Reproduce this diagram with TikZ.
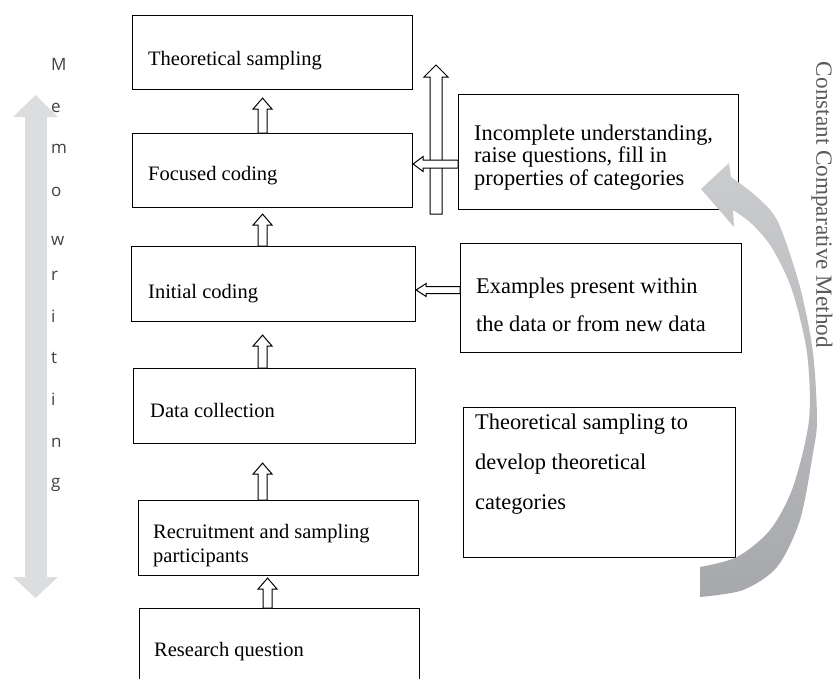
\documentclass[tikz,border=0pt]{standalone}
\usepackage{fontspec}
\setmainfont{Liberation Serif}
\newfontfamily\memofont{Open Sans}
\usetikzlibrary{calc}
\definecolor{memogray}{HTML}{DCDDDF}
\definecolor{cmdark}{HTML}{A7A8AC}
\definecolor{cmlight}{HTML}{CBCCCE}
\definecolor{cmtext}{HTML}{5A5A5A}
\definecolor{memotext}{HTML}{404040}
% hollow arrow pointing up: #1 start, #2 tip, #3 shaft half width, #4 head half width, #5 head length
\newcommand\hollowUp[5]{%
  \draw[hollowarr] let \p1=(#1), \p2=(#2) in
    (\x1-#3pt,\y1) -- (\x1-#3pt,\y2-#5pt) -- (\x1-#4pt,\y2-#5pt) -- (\x1,\y2)
    -- (\x1+#4pt,\y2-#5pt) -- (\x1+#3pt,\y2-#5pt) -- (\x1+#3pt,\y1) -- cycle;}
% hollow arrow pointing left
\newcommand\hollowLeft[5]{%
  \draw[hollowarr] let \p1=(#1), \p2=(#2) in
    (\x1,\y1-#3pt) -- (\x2+#5pt,\y1-#3pt) -- (\x2+#5pt,\y1-#4pt) -- (\x2,\y1)
    -- (\x2+#5pt,\y1+#4pt) -- (\x2+#5pt,\y1+#3pt) -- (\x1,\y1+#3pt) -- cycle;}
\begin{document}
\begin{tikzpicture}[x=1pt,y=-1pt,
  box/.style={draw=black, line width=1.1pt, rectangle, inner sep=0pt, anchor=north west},
  lefttext/.style={anchor=base west, inner sep=0pt, align=left,
    font=\fontsize{20.5}{24}\selectfont},
  righttext/.style={anchor=base west, inner sep=0pt, align=left},
  hollowarr/.style={draw=black, line width=1pt, fill=white, line join=miter},
  memoletter/.style={anchor=base west, inner sep=0pt, text=memotext,
    font=\memofont\fontsize{17}{20}\selectfont}
]
\useasboundingbox (0,0) rectangle (836,678);

% ---------- left column boxes ----------
\node[box, minimum width=280pt, minimum height=74pt] (ts)  at (132,15)  {};
\node[box, minimum width=280pt, minimum height=74pt] (fc)  at (132,133) {};
\node[box, minimum width=284pt, minimum height=75pt] (ic)  at (131,246) {};
\node[box, minimum width=282pt, minimum height=75pt] (dc)  at (133,368) {};
\node[box, minimum width=280pt, minimum height=75pt] (rec) at (138,500) {};
\node[box, minimum width=280pt, minimum height=100pt] (rq) at (139,608) {};

\node[lefttext] (tst)  at (148,65)  {Theoretical sampling};
\node[lefttext] (fct)  at (148,180) {Focused coding};
\node[lefttext] (ict)  at (148,298) {Initial coding};
\node[lefttext] (dct)  at (150,417) {Data collection};
\node[lefttext] (rect) at (153,562) {Recruitment and sampling\\participants};
\node[lefttext] (rqt)  at (154,656) {Research question};

% ---------- right column boxes ----------
\node[box, minimum width=280pt, minimum height=115pt] (inc) at (458,94)  {};
\node[box, minimum width=281pt, minimum height=109pt] (ex)  at (460,243) {};
\node[box, minimum width=272pt, minimum height=150pt] (tsd) at (463,407) {};

\node[righttext, font=\fontsize{22.4}{22.5}\selectfont] (inct) at (474,185)
  {Incomplete understanding,\\raise questions, fill in\\properties of categories};
\node[righttext, font=\fontsize{22.4}{38}\selectfont] (ext) at (476,331)
  {Examples present within\\the data or from new data};
\node[righttext, font=\fontsize{22.4}{40}\selectfont] (tsdt) at (475,509)
  {Theoretical sampling to\\develop theoretical\\categories};

% ---------- small hollow arrows between left boxes ----------
\hollowUp{$(rq.north)+(-12,0)$}{$(rec.south)+(0,2)$}{4.5}{9.5}{11}
\hollowUp{$(rec.north)+(-16,0)$}{$(dc.south)+(0,19)$}{4.5}{9.5}{11}
\hollowUp{$(dc.north)+(-12,0)$}{$(ic.south)+(0,13)$}{4.5}{9.5}{11}
\hollowUp{$(ic.north)+(-11,0)$}{$(fc.south)+(0,6)$}{4.5}{9.5}{11}
\hollowUp{$(fc.north)+(-10,0)$}{$(ts.south)+(0,8)$}{4.5}{9.5}{11}

% ---------- long vertical arrow and side arrows ----------
\coordinate (vbot) at (436,214);
\coordinate (vtop) at (436,65);
\hollowUp{vbot}{vtop}{6}{12}{12}
\hollowLeft{inc.west |- 0,164}{fc.east |- 0,164}{4}{7.5}{10}
\hollowLeft{ex.west |- 0,290}{ic.east |- 0,290}{3.5}{6.5}{10}

% ---------- memo writing double arrow ----------
\coordinate (memotop) at (35.5,95);
\coordinate (memobot) at (35.5,598);
\fill[memogray] (memotop) -- (58,117) -- (47,117) -- (47,577) -- (58,577) -- (memobot)
  -- (13,577) -- (25,577) -- (25,117) -- (13,117) -- cycle;
\foreach \ch/\yy in {M/70, e/112, m/153, o/196, w/245, r/280, i/322, t/363, i/405, n/447, g/487}
  \node[memoletter] at (51,\yy) {\ch};

% ---------- constant comparative method ----------
\shade[top color=cmlight, bottom color=cmdark]
  (700,567) -- plot[smooth] coordinates {(700,567) (737,557) (770,530) (793,487) (809,420) (807,353) (792,290) (772,248) (752,224) (733,210)}
  -- (734,227) -- (701,189) -- (729,163) -- (731,177)
  -- plot[smooth] coordinates {(731,177) (756,196) (778,222) (800,287) (813,353) (817,420) (813,453) (800,520) (777,567) (743,590) (700,597)}
  -- cycle;
\node[rotate=-90, text=cmtext, inner sep=0pt, font=\fontsize{23.2}{26}\selectfont] (ccm) at (822,205)
  {Constant Comparative Method};
\end{tikzpicture}
\end{document}
